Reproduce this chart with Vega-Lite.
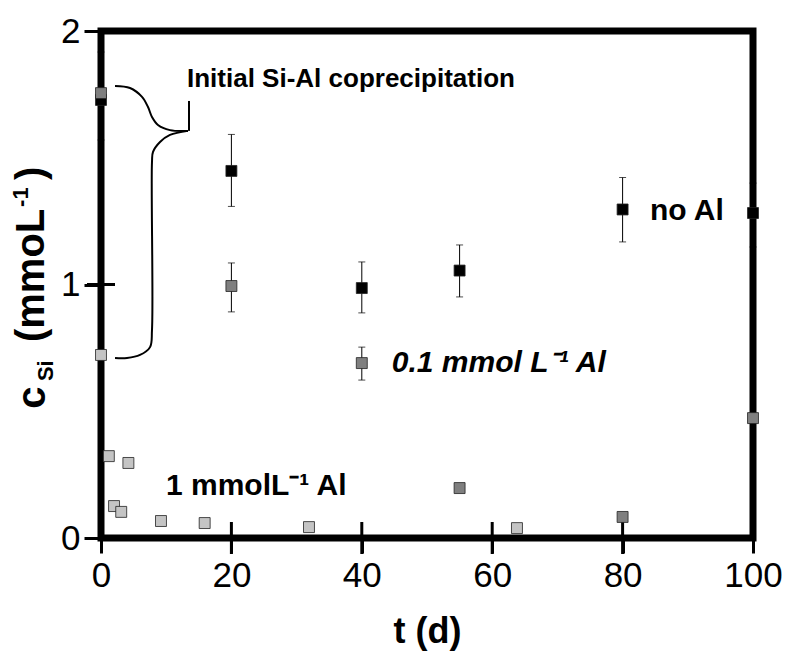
{
  "$schema": "https://vega.github.io/schema/vega-lite/v6.json",
  "autosize": {"type": "none"},
  "padding": {"left": 101, "top": 31, "right": 32, "bottom": 115},
  "width": 652,
  "height": 507,
  "background": "white",
  "config": {
    "view": {"stroke": "black", "strokeWidth": 7},
    "axis": {
      "domain": false,
      "grid": false,
      "labelFont": "Liberation Sans",
      "labelFontSize": 35,
      "labelColor": "black",
      "labelOverlap": false,
      "labelSeparation": 0,
      "labelBound": false,
      "tickColor": "black",
      "tickWidth": 3,
      "titleFont": "Liberation Sans",
      "titleFontWeight": "bold",
      "titleFontSize": 36,
      "titleColor": "black"
    },
    "text": {"font": "Liberation Sans", "fontWeight": "bold", "color": "black"}
  },
  "datasets": {
    "points": [
      {"series": "no Al", "t": 0, "c": 1.728},
      {"series": "no Al", "t": 20, "c": 1.448},
      {"series": "no Al", "t": 40, "c": 0.986},
      {"series": "no Al", "t": 55, "c": 1.055},
      {"series": "no Al", "t": 80, "c": 1.296},
      {"series": "no Al", "t": 100, "c": 1.282},
      {"series": "0.1 mmol", "t": 0, "c": 1.755},
      {"series": "0.1 mmol", "t": 20, "c": 0.994},
      {"series": "0.1 mmol", "t": 40, "c": 0.690},
      {"series": "0.1 mmol", "t": 55, "c": 0.197},
      {"series": "0.1 mmol", "t": 80, "c": 0.083},
      {"series": "0.1 mmol", "t": 100, "c": 0.473},
      {"series": "1 mmol", "t": 0, "c": 0.722},
      {"series": "1 mmol", "t": 1.2, "c": 0.323},
      {"series": "1 mmol", "t": 2.0, "c": 0.126},
      {"series": "1 mmol", "t": 3.1, "c": 0.103},
      {"series": "1 mmol", "t": 4.2, "c": 0.296},
      {"series": "1 mmol", "t": 9.2, "c": 0.067},
      {"series": "1 mmol", "t": 15.9, "c": 0.059},
      {"series": "1 mmol", "t": 31.9, "c": 0.043},
      {"series": "1 mmol", "t": 63.8, "c": 0.039}
    ],
    "errors": [
      {"series": "no Al", "t": 0, "lo": 1.570, "hi": 1.917},
      {"series": "no Al", "t": 20, "lo": 1.308, "hi": 1.592},
      {"series": "no Al", "t": 40, "lo": 0.888, "hi": 1.089},
      {"series": "no Al", "t": 55, "lo": 0.951, "hi": 1.156},
      {"series": "no Al", "t": 80, "lo": 1.168, "hi": 1.422},
      {"series": "no Al", "t": 100, "lo": 1.148, "hi": 1.400},
      {"series": "0.1 mmol", "t": 20, "lo": 0.892, "hi": 1.085},
      {"series": "0.1 mmol", "t": 40, "lo": 0.623, "hi": 0.753}
    ],
    "brace": [
      {"part": "upper", "i": 1, "t": 2.15, "c": 1.783},
      {"part": "upper", "i": 2, "t": 4.45, "c": 1.775},
      {"part": "upper", "i": 3, "t": 6.29, "c": 1.740},
      {"part": "upper", "i": 4, "t": 7.21, "c": 1.700},
      {"part": "upper", "i": 5, "t": 7.82, "c": 1.661},
      {"part": "upper", "i": 6, "t": 8.74, "c": 1.629},
      {"part": "upper", "i": 7, "t": 10.58, "c": 1.609},
      {"part": "upper", "i": 8, "t": 13.34, "c": 1.606},
      {"part": "lower", "i": 1, "t": 13.34, "c": 1.606},
      {"part": "lower", "i": 2, "t": 10.58, "c": 1.590},
      {"part": "lower", "i": 3, "t": 9.05, "c": 1.562},
      {"part": "lower", "i": 4, "t": 7.98, "c": 1.523},
      {"part": "lower", "i": 5, "t": 7.82, "c": 1.483},
      {"part": "lower", "i": 6, "t": 7.82, "c": 0.821},
      {"part": "lower", "i": 7, "t": 7.52, "c": 0.753},
      {"part": "lower", "i": 8, "t": 5.98, "c": 0.722},
      {"part": "lower", "i": 9, "t": 3.99, "c": 0.710},
      {"part": "lower", "i": 10, "t": 2.15, "c": 0.710},
      {"part": "stem", "i": 1, "t": 13.5, "c": 1.606},
      {"part": "stem", "i": 2, "t": 13.5, "c": 1.724}
    ]
  },
  "encoding": {
    "x": {
      "field": "t",
      "type": "quantitative",
      "title": "t (d)",
      "scale": {"domain": [0, 100], "nice": false, "zero": false},
      "axis": {
        "values": [0, 20, 40, 60, 80, 100],
        "tickSize": 15,
        "labelPadding": 5,
        "titlePadding": 21,
        "labelFlush": false,
        "labelOverlap": false
      }
    },
    "y": {
      "field": "c",
      "type": "quantitative",
      "title": null,
      "scale": {"domain": [0, 2], "nice": false, "zero": false},
      "axis": {
        "values": [0, 1, 2],
        "labelExpr": "format(datum.value, 'd')",
        "tickSize": 17,
        "labelPadding": 4,
        "labelFlush": false,
        "labelOverlap": false,
        "zindex": 1
      }
    }
  },
  "layer": [
    {
      "description": "inner halves of the major ticks, which cross the frame",
      "data": {"values": [{"t": 20, "c": 0}, {"t": 40, "c": 0}, {"t": 60, "c": 0}, {"t": 80, "c": 0}]},
      "mark": {"type": "tick", "orient": "vertical", "size": 32, "thickness": 3, "color": "black", "opacity": 1}
    },
    {
      "data": {"values": [{"t": 0, "c": 1}]},
      "mark": {"type": "tick", "orient": "horizontal", "size": 28, "thickness": 3, "color": "black", "opacity": 1}
    },
    {
      "data": {"name": "errors"},
      "mark": {
        "type": "errorbar",
        "ticks": {"size": 7, "color": "black", "strokeWidth": 1},
        "rule": {"color": "black", "strokeWidth": 1}
      },
      "encoding": {
        "y": {
          "field": "lo",
          "type": "quantitative",
          "title": null,
          "axis": {
            "values": [0, 1, 2],
            "labelExpr": "format(datum.value, 'd')",
            "tickSize": 17,
            "labelPadding": 4,
            "labelFlush": false,
            "labelOverlap": false,
            "zindex": 1
          }
        },
        "y2": {"field": "hi"}
      }
    },
    {
      "data": {"name": "points"},
      "mark": {"type": "square", "size": 120, "filled": true, "stroke": "#222222", "strokeWidth": 0.8, "opacity": 1},
      "encoding": {
        "fill": {
          "field": "series",
          "type": "nominal",
          "scale": {"domain": ["no Al", "0.1 mmol", "1 mmol"], "range": ["#000000", "#7f7f7f", "#c4c4c4"]},
          "legend": null
        }
      }
    },
    {
      "data": {"name": "brace"},
      "mark": {"type": "line", "color": "black", "strokeWidth": 2, "interpolate": "catmull-rom"},
      "encoding": {
        "detail": {"field": "part", "type": "nominal"},
        "order": {"field": "i", "type": "quantitative"}
      }
    },
    {
      "data": {"values": [
        {"t": 13.19, "c": 1.779, "label": "Initial Si-Al coprecipitation"}
      ]},
      "mark": {"type": "text", "align": "left", "baseline": "alphabetic", "fontSize": 26},
      "encoding": {"text": {"field": "label"}}
    },
    {
      "data": {"values": [
        {"t": 84.2, "c": 1.254, "label": "no Al"},
        {"t": 9.97, "c": 0.170, "label": "1 mmolL⁻¹ Al"}
      ]},
      "mark": {"type": "text", "align": "left", "baseline": "alphabetic", "fontSize": 30},
      "encoding": {"text": {"field": "label"}}
    },
    {
      "data": {"values": [
        {"t": 44.6, "c": 0.655, "label": "0.1 mmol L⁻¹ Al"}
      ]},
      "mark": {"type": "text", "align": "left", "baseline": "alphabetic", "fontSize": 30, "fontStyle": "italic"},
      "encoding": {"text": {"field": "label"}}
    },
    {
      "data": {"values": [
        {"t": -8.6, "c": 0.51, "label": "c"},
        {"t": -8.67, "c": 0.773, "label": "(mmoL"},
        {"t": -8.67, "c": 1.412, "label": ")"}
      ]},
      "mark": {"type": "text", "align": "left", "baseline": "alphabetic", "angle": 270, "fontSize": 40},
      "encoding": {"text": {"field": "label"}}
    },
    {
      "data": {"values": [
        {"t": -7.36, "c": 0.619, "label": "Si"},
        {"t": -11.2, "c": 1.306, "label": "-1"}
      ]},
      "mark": {"type": "text", "align": "left", "baseline": "alphabetic", "angle": 270, "fontSize": 22},
      "encoding": {"text": {"field": "label"}}
    }
  ]
}
